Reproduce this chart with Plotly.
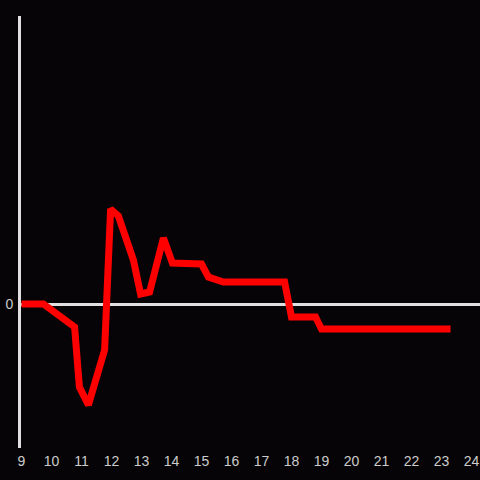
import plotly.graph_objects as go

hours = [9.0, 9.73, 10.77, 10.93, 11.23, 11.77, 11.97, 12.23, 12.73, 12.97, 13.27,
         13.73, 14.03, 15.0, 15.23, 15.73, 17.77, 18.0, 18.8, 19.0, 23.3]
values = [0, 0, -23, -83, -101, -46, 95, 88, 44, 10, 12,
          66, 41, 40, 27, 22, 22, -13, -13, -25, -25]
x_ticks = list(range(9, 25))

bg = "#060406"
fig = go.Figure()
fig.add_trace(go.Scatter(x=hours, y=values, mode="lines",
                         line=dict(color="#ff0000", width=7),
                         hoverinfo="skip"))
fig.update_layout(
    width=480, height=480,
    paper_bgcolor=bg, plot_bgcolor=bg,
    margin=dict(l=21, r=0, t=16, b=32),
    showlegend=False,
    font=dict(family="Liberation Sans, Arial, sans-serif", size=14, color="#cccccc"),
    xaxis=dict(range=[9 - 0.5 / 30, 9 + 458.5 / 30], tickvals=x_ticks, showgrid=False,
               zeroline=False, showline=False, ticks="", ticklen=0,
               ticklabelstandoff=3),
    yaxis=dict(range=[-144, 288], tickvals=[0], showgrid=False,
               zeroline=True, zerolinecolor="#e0e0e0", zerolinewidth=3,
               showline=True, linecolor="#e0e0e0", linewidth=3, ticks="",
               layer="below traces", ticklabelstandoff=2),
)
fig.write_html("out.html", config={"displayModeBar": False},
               post_script="document.body.style.margin='0';document.body.style.overflow='hidden';document.body.style.background='" + bg + "';")
